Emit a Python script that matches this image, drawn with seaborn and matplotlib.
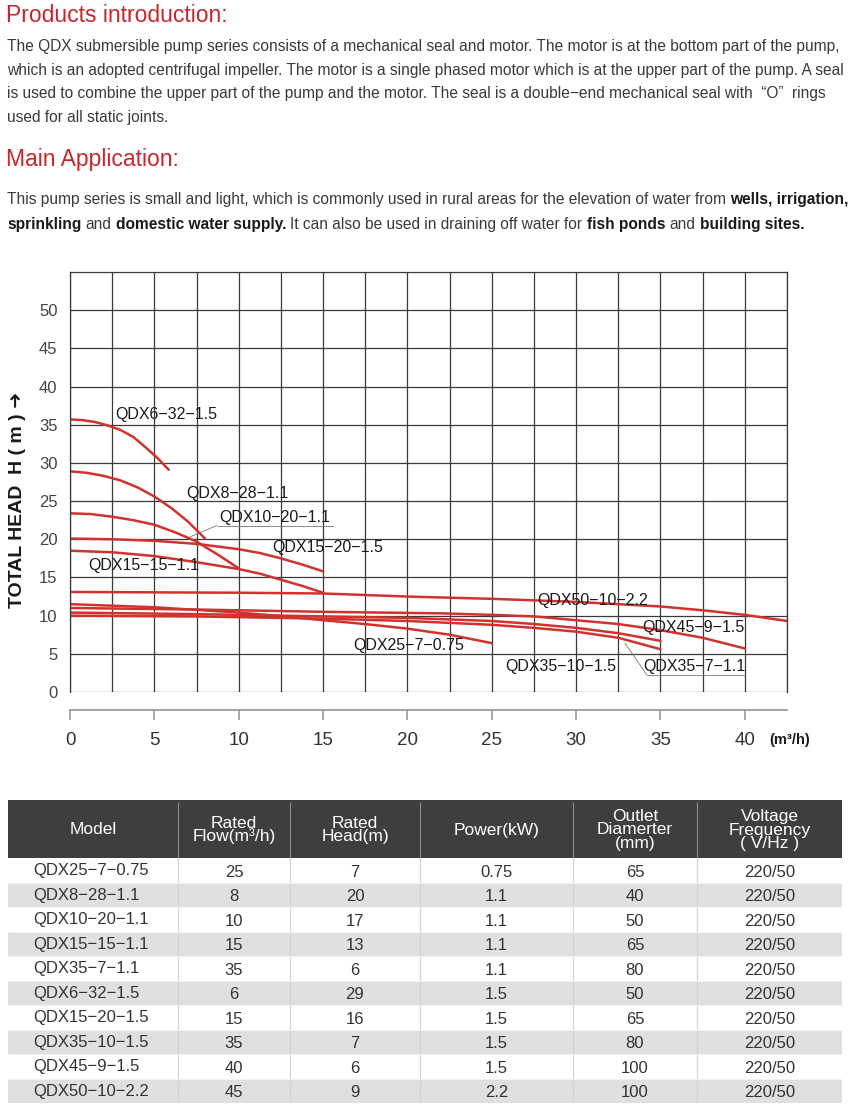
import numpy as np
import pandas as pd
import matplotlib
matplotlib.use("Agg")
import matplotlib.pyplot as plt
import seaborn as sns
from matplotlib import font_manager

# Pump curves: flow (m3/h) and total head (m)
q6_32_flow = [0, 0.75, 1.5, 2.25, 3, 3.75, 4.5, 5.25, 5.85]
q6_32_head = [35.7, 35.6, 35.35, 34.9, 34.3, 33.4, 32.0, 30.5, 29.1]

q8_28_flow = [0, 1, 2, 3, 4, 5, 6, 7, 8]
q8_28_head = [28.9, 28.7, 28.3, 27.7, 26.8, 25.6, 24.1, 22.3, 20.1]

q10_20_flow = [0, 1.25, 2.5, 3.75, 5, 6.25, 7.5, 8.75, 10]
q10_20_head = [23.4, 23.3, 22.95, 22.5, 21.9, 20.9, 19.7, 18.0, 16.2]

q15_20_flow = [0, 2.5, 5, 7.5, 10, 11.25, 12.5, 13.75, 15]
q15_20_head = [20.1, 20.0, 19.8, 19.4, 18.7, 18.2, 17.5, 16.7, 15.8]

q15_15_flow = [0, 2.5, 5, 7.5, 10, 11.25, 12.5, 13.75, 15]
q15_15_head = [18.5, 18.3, 17.8, 17.0, 16.1, 15.5, 14.7, 13.9, 13.0]

q50_10_flow = [0, 10, 15, 20, 25, 30, 35, 37.5, 40, 42.5]
q50_10_head = [13.1, 13.0, 12.9, 12.5, 12.2, 11.8, 11.2, 10.7, 10.1, 9.3]

q45_9_flow = [0, 7.5, 15, 22, 25, 27.5, 30, 32.5, 35, 37.5, 40]
q45_9_head = [11.0, 10.8, 10.5, 10.3, 10.1, 9.9, 9.4, 8.9, 8.1, 7.1, 5.7]

q35_10_flow = [0, 7.5, 15, 20, 25, 27.5, 30, 32.5, 35]
q35_10_head = [10.4, 10.2, 9.9, 9.7, 9.3, 8.9, 8.4, 7.7, 6.7]

q35_7_flow = [0, 7.5, 15, 20, 25, 27.5, 30, 32.5, 35]
q35_7_head = [10.0, 9.9, 9.6, 9.3, 8.8, 8.4, 7.9, 7.1, 5.6]

q25_7_flow = [0, 5, 10, 12.5, 15, 17.5, 20, 22.5, 25]
q25_7_head = [11.5, 11.1, 10.4, 9.95, 9.4, 8.9, 8.3, 7.5, 6.4]

curve_names = ["QDX6−32−1.5", "QDX8−28−1.1", "QDX10−20−1.1", "QDX15−20−1.5",
               "QDX15−15−1.1", "QDX50−10−2.2", "QDX45−9−1.5", "QDX35−10−1.5",
               "QDX35−7−1.1", "QDX25−7−0.75"]
curve_flows = [q6_32_flow, q8_28_flow, q10_20_flow, q15_20_flow, q15_15_flow,
               q50_10_flow, q45_9_flow, q35_10_flow, q35_7_flow, q25_7_flow]
curve_heads = [q6_32_head, q8_28_head, q10_20_head, q15_20_head, q15_15_head,
               q50_10_head, q45_9_head, q35_10_head, q35_7_head, q25_7_head]

# Table data
models = ["QDX25−7−0.75", "QDX8−28−1.1", "QDX10−20−1.1", "QDX15−15−1.1", "QDX35−7−1.1",
          "QDX6−32−1.5", "QDX15−20−1.5", "QDX35−10−1.5", "QDX45−9−1.5", "QDX50−10−2.2"]
rated_flow = ["25", "8", "10", "15", "35", "6", "15", "35", "40", "45"]
rated_head = ["7", "20", "17", "13", "6", "29", "16", "7", "6", "9"]
power_kw = ["0.75", "1.1", "1.1", "1.1", "1.1", "1.5", "1.5", "1.5", "1.5", "2.2"]
outlet_mm = ["65", "40", "50", "65", "80", "50", "65", "80", "100", "100"]
voltage = ["220/50"] * 10
table_header = ["Model", "Rated\nFlow(m³/h)", "Rated\nHead(m)", "Power(kW)",
                "Outlet\nDiamerter\n(mm)", "Voltage\nFrequency\n( V/Hz )"]

RED = "#d2322d"
TITLE_RED = "#c9272c"
W, H = 850, 1108

sns.set_theme(style="white")
plt.rcParams["font.family"] = ["Liberation Sans", "DejaVu Sans"]
try:
    font_manager.findfont("Liberation Sans Narrow", fallback_to_default=False)
    NARROW = "Liberation Sans Narrow"
except Exception:
    NARROW = "Liberation Sans"
FAM = [NARROW, "DejaVu Sans"]

fig = plt.figure(figsize=(W / 100, H / 100), dpi=100)
renderer = fig.canvas.get_renderer()


def fx(px):
    return px / W


def fy(py):
    return 1 - py / H


def text_w(t):
    return t.get_window_extent(renderer).width


def draw_runs(runs, py, size, x0=7):
    probe1 = fig.text(0, 0, "a a", family=FAM, fontsize=size)
    probe2 = fig.text(0, 0, "aa", family=FAM, fontsize=size)
    space = text_w(probe1) - text_w(probe2)
    probe1.remove()
    probe2.remove()
    x = x0
    for i, (s, bold) in enumerate(runs):
        if i > 0:
            x += space
        t = fig.text(fx(x), fy(py), s, family=FAM, fontsize=size,
                     fontweight="bold" if bold else "normal",
                     color="#1a1a1a" if bold else "#3a3a3a", va="baseline", ha="left")
        x += text_w(t)


# fit the body text size so the first justified line spans the page
line1 = "The QDX submersible pump series consists of a mechanical seal and motor. The motor is at the bottom part of the pump,"
probe = fig.text(0, 0, line1, family=FAM, fontsize=10)
body_size = 10 * 836 / text_w(probe)
probe.remove()

fig.text(fx(6), fy(22), "Products introduction:", family=FAM,
         fontsize=16.5, color=TITLE_RED, va="baseline", ha="left")
para1 = [
    line1,
    "which is an adopted centrifugal impeller. The motor is a single phased motor which is at the upper part of the pump. A seal",
    "is used to combine the upper part of the pump and the motor. The seal is a double−end mechanical seal with  “O”  rings",
    "used for all static joints.",
]
for i, s in enumerate(para1):
    draw_runs([(s, False)], 51 + i * 23.7, body_size)

fig.text(fx(6), fy(166), "Main Application:", family=FAM,
         fontsize=16.5, color=TITLE_RED, va="baseline", ha="left")
draw_runs([("This pump series is small and light, which is commonly used in rural areas for the elevation of water from", False),
           ("wells, irrigation,", True)], 204, body_size)
draw_runs([("sprinkling", True), ("and", False), ("domestic water supply.", True),
           ("It can also be used in draining off water for", False), ("fish ponds", True),
           ("and", False), ("building sites.", True)], 229, body_size)

# ---------------- performance chart ----------------
rows = []
for name, fl, hd in zip(curve_names, curve_flows, curve_heads):
    for f, h in zip(fl, hd):
        rows.append({"model": name, "flow": f, "head": h})
df = pd.DataFrame(rows)

ax = fig.add_axes([fx(70), fy(692), 717 / W, 420 / H])
sns.lineplot(data=df, x="flow", y="head", units="model", estimator=None, sort=False,
             color=RED, lw=1.8, ax=ax, legend=False)
for ln in ax.lines:
    ln.set_solid_joinstyle("round")
    ln.set_solid_capstyle("round")
ax.set_xlim(0, 42.5)
ax.set_ylim(0, 55)
ax.set_xticks(np.arange(0, 41, 5))
ax.set_xticks(np.arange(0, 42.6, 2.5), minor=True)
ax.set_yticks(np.arange(0, 51, 5))
ax.grid(True, which="both", color="#3a3a3a", lw=0.9)
ax.set_axisbelow(True)
ax.tick_params(axis="x", which="major", direction="out", length=7, width=1.2,
               color="#999999", labelsize=13.5, labelcolor="#333333", pad=9, bottom=True)
ax.tick_params(axis="x", which="minor", length=0)
ax.tick_params(axis="y", length=0, labelsize=12, labelcolor="#444444", pad=9)
for s in ["top", "right", "left"]:
    ax.spines[s].set_color("#3a3a3a")
    ax.spines[s].set_linewidth(0.9)
ax.spines["bottom"].set_position(("outward", 13))
ax.spines["bottom"].set_color("#9a9a9a")
ax.spines["bottom"].set_linewidth(1.3)
ax.set_xlabel("")
ax.set_ylabel("")

label_pos = {
    "QDX6−32−1.5": (2.7, 35.8),
    "QDX8−28−1.1": (6.9, 25.4),
    "QDX10−20−1.1": (8.85, 22.3),
    "QDX15−20−1.5": (12.0, 18.3),
    "QDX15−15−1.1": (1.1, 16.0),
    "QDX50−10−2.2": (27.7, 11.4),
    "QDX45−9−1.5": (33.9, 7.8),
    "QDX35−10−1.5": (25.8, 2.7),
    "QDX35−7−1.1": (34.0, 2.8),
    "QDX25−7−0.75": (16.8, 5.5),
}
for name, (lx, ly) in label_pos.items():
    ax.text(lx, ly, name, fontsize=11.5, color="#1a1a1a", va="baseline", ha="left", zorder=5)

# leader lines
ax.plot([8.7, 15.6], [21.8, 21.8], color="#777777", lw=0.6)
ax.plot([8.7, 7.1], [21.8, 20.3], color="#777777", lw=0.6)
ax.plot([34.2, 40.0], [2.2, 2.2], color="#777777", lw=0.6)
ax.plot([34.2, 32.9], [2.2, 6.4], color="#777777", lw=0.6)

fig.text(fx(18), fy(500), "TOTAL HEAD  H ( m ) ➜", rotation=90, fontsize=14,
         fontweight="bold", color="#1a1a1a", va="center", ha="center",
         family=["Liberation Sans", "DejaVu Sans"])
fig.text(fx(790), fy(740), "(m³/h)", fontsize=10.5, fontweight="bold",
         color="#1a1a1a", va="center", ha="center")

# ---------------- spec table ----------------
tab_h = 303
head_h = 58
row_h = (tab_h - head_h) / len(models)
col_edges = [0, 170, 282, 412, 565, 689, 834]
centers = [(a + b) / 2 for a, b in zip(col_edges[:-1], col_edges[1:])]

axt = fig.add_axes([fx(8), fy(800 + tab_h), 834 / W, tab_h / H])
axt.set_xlim(0, 834)
axt.set_ylim(tab_h, 0)
axt.axis("off")

axt.barh(head_h / 2, 834, height=head_h, left=0, color="#3e3e3e", edgecolor="none")
row_y = [head_h + row_h * (i + 0.5) for i in range(len(models))]
row_colors = ["white" if i % 2 == 0 else "#e0e0e0" for i in range(len(models))]
axt.barh(row_y, 834, height=row_h, left=0, color=row_colors, edgecolor="none")
axt.vlines(col_edges[1:-1], 2, head_h, color="#8a8a8a", lw=0.8)
axt.vlines(col_edges[1:-1], head_h, tab_h, color="#d4d4d4", lw=0.9)
axt.hlines([head_h + row_h * i for i in range(1, len(models))], 0, 834, color="#f2f2f2", lw=0.8)

for c, s in zip(centers, table_header):
    axt.text(c, head_h / 2 + 1, s, color="white", fontsize=12.5, family=FAM,
             ha="center", va="center", linespacing=0.85)

cols = [rated_flow, rated_head, power_kw, outlet_mm, voltage]
for i, y in enumerate(row_y):
    axt.text(25, y + 5, models[i], fontsize=12, color="#333333", family=FAM,
             ha="left", va="baseline")
    for c, col in zip(centers[1:], cols):
        axt.text(c, y + 6.5, col[i], fontsize=12, color="#333333", family=FAM,
                 ha="center", va="baseline")

plt.savefig("out.png", dpi=100)
